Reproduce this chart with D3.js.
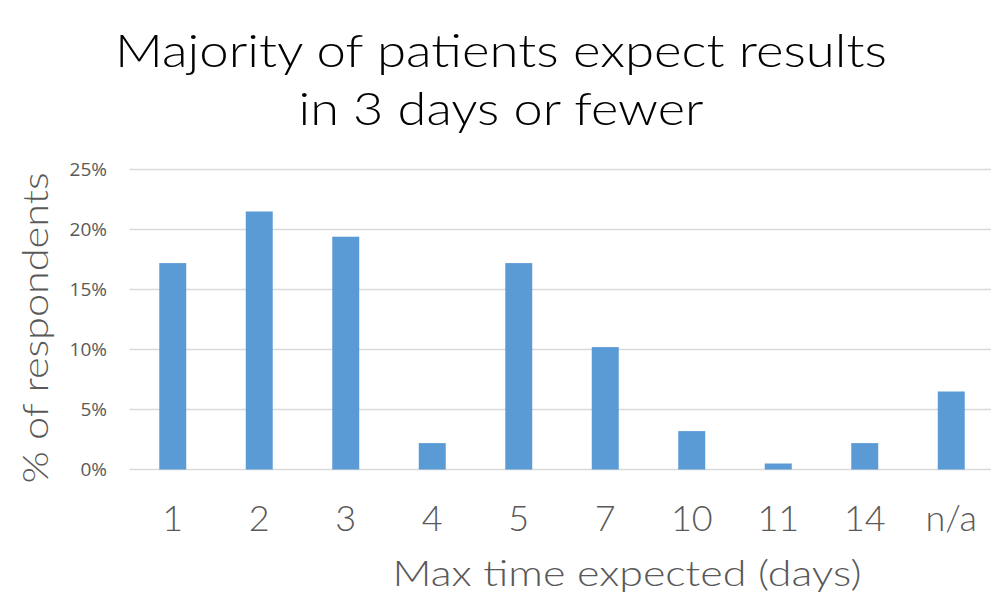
<!DOCTYPE html>
<html>
<head>
<meta charset="utf-8">
<script src="https://cdn.jsdelivr.net/npm/d3@7"></script>
<style>
  body { margin: 0; background: #fff; }
  svg { display: block; }
  .gtitle { font-family: "Lato", "Open Sans", sans-serif; font-weight: 300; }
</style>
</head>
<body>
<div id="chart"></div>
<script>
var days = ["1", "2", "3", "4", "5", "7", "10", "11", "14", "n/a"];
var share = [17.2, 21.5, 19.4, 2.2, 17.2, 10.2, 3.2, 0.5, 2.2, 6.5];
var yTicks = [0, 5, 10, 15, 20, 25];
var titleLines = ["Majority of patients expect results", "in 3 days or fewer"];

var width = 991, height = 608;
var barColor = "#5b9bd5";
var gridColor = "#d9d9d9";
var textGrey = "#595959";

var svg = d3.select("#chart").append("svg")
    .attr("width", width)
    .attr("height", height);

var x = d3.scaleBand()
    .domain(days)
    .range([129.5, 994.5])
    .paddingInner(0.688)
    .paddingOuter(0.344);

var y = d3.scaleLinear()
    .domain([0, 25])
    .range([469.5, 169.5]);

// gridlines
svg.append("g")
    .selectAll("line")
    .data(yTicks)
    .enter().append("line")
    .attr("x1", 129.5)
    .attr("x2", width)
    .attr("y1", function (d) { return y(d); })
    .attr("y2", function (d) { return y(d); })
    .attr("stroke", gridColor)
    .attr("stroke-width", 1.5);

// y axis labels
var yAxis = d3.axisLeft(y)
    .tickValues(yTicks)
    .tickSize(0)
    .tickPadding(0)
    .tickFormat(function (d) { return d + "%"; });

svg.append("g")
    .attr("transform", "translate(107,0)")
    .call(yAxis)
    .call(function (g) { g.select(".domain").remove(); })
    .selectAll("text")
    .attr("fill", textGrey)
    .style("font-family", "'Open Sans', sans-serif")
    .style("font-size", "19px");

// bars
svg.append("g")
    .selectAll("rect")
    .data(share)
    .enter().append("rect")
    .attr("x", function (d, i) { return x(days[i]); })
    .attr("width", x.bandwidth())
    .attr("y", function (d) { return y(d); })
    .attr("height", function (d) { return y(0) - y(d); })
    .attr("fill", barColor);

// x axis labels
var xAxis = d3.axisBottom(x)
    .tickSize(0)
    .tickPadding(0);

svg.append("g")
    .attr("transform", "translate(0,505)")
    .call(xAxis)
    .call(function (g) { g.select(".domain").remove(); })
    .selectAll("text")
    .attr("dy", "0.72em")
    .attr("fill", textGrey)
    .attr("class", "gtitle")
    .style("font-size", "36px");

// axis titles
svg.append("text")
    .attr("class", "gtitle")
    .attr("x", 627)
    .attr("y", 586)
    .attr("text-anchor", "middle")
    .attr("fill", textGrey)
    .attr("textLength", 469)
    .attr("lengthAdjust", "spacingAndGlyphs")
    .style("font-size", "36px")
    .text("Max time expected (days)");

svg.append("text")
    .attr("class", "gtitle")
    .attr("transform", "translate(48,328) rotate(-90)")
    .attr("text-anchor", "middle")
    .attr("fill", textGrey)
    .attr("textLength", 311)
    .attr("lengthAdjust", "spacingAndGlyphs")
    .style("font-size", "36px")
    .text("% of respondents");

// chart title
var titleWidths = [772, 405];
svg.append("g")
    .selectAll("text")
    .data(titleLines)
    .enter().append("text")
    .attr("class", "gtitle")
    .attr("x", 501)
    .attr("y", function (d, i) { return 67 + i * 58; })
    .attr("text-anchor", "middle")
    .attr("fill", "#000")
    .attr("textLength", function (d, i) { return titleWidths[i]; })
    .attr("lengthAdjust", "spacingAndGlyphs")
    .style("font-size", "46px")
    .text(function (d) { return d; });
</script>
</body>
</html>
